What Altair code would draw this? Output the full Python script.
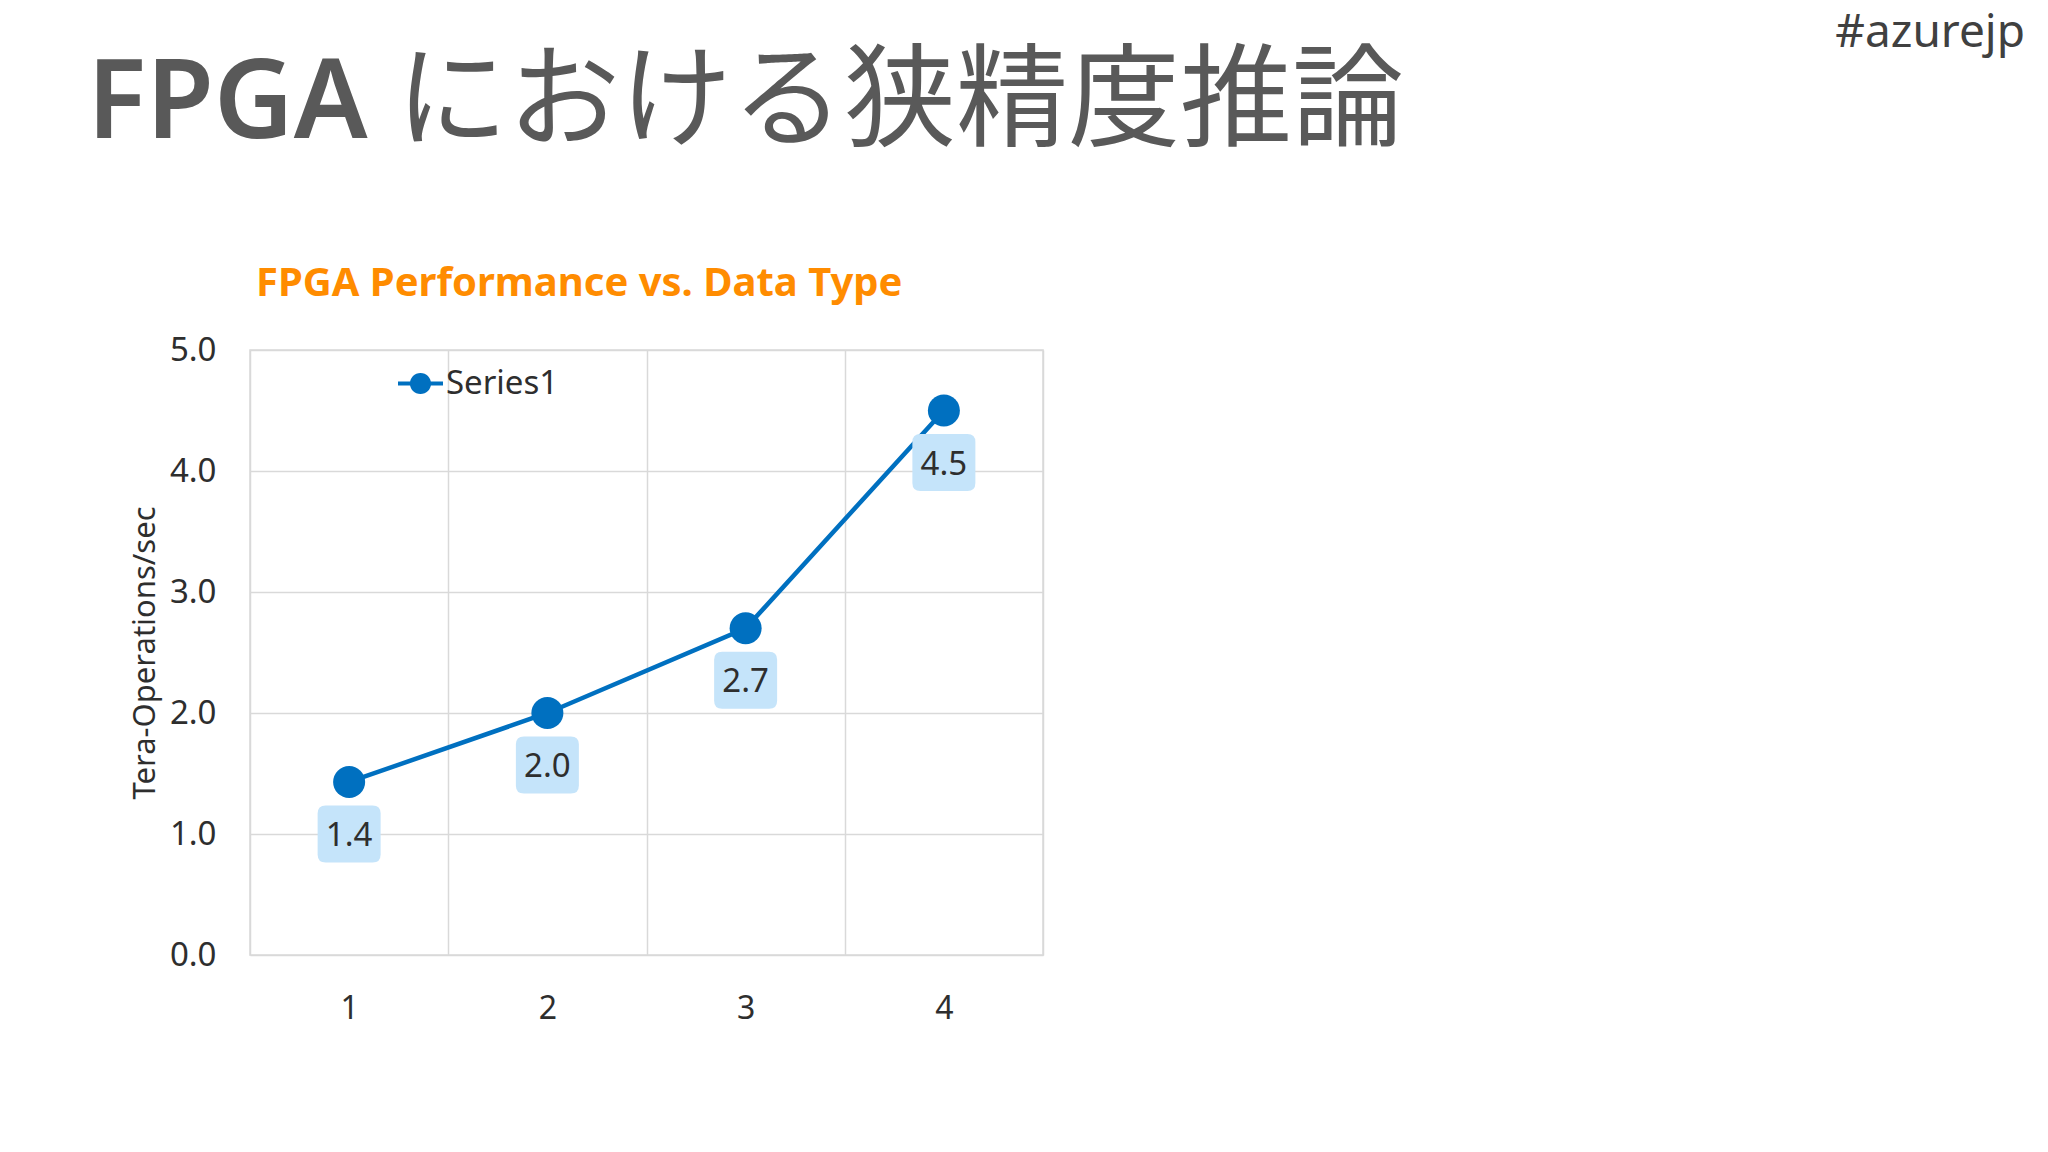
import altair as alt
import pandas as pd

# ---- data ----
categories = ["1", "2", "3", "4"]
values = [1.43, 2.0, 2.7, 4.5]
series_name = "Series1"
y_ticks = [0, 1, 2, 3, 4, 5]

slide_title_latin = "FPGA"
slide_title_jp = "における狭精度推論"
chart_title = "FPGA Performance vs. Data Type"
hashtag = "#azurejp"
y_title = "Tera-Operations/sec"

df = pd.DataFrame({"type": categories, "value": values, "series": [series_name] * len(values)})

FONT = "Noto Sans"
BLUE = "#0070C0"
GRID = "#D9D9D9"
LABEL_BG = "#C5E4FA"
TXT = "#2E2E2E"

legend_symbol = ("M-1,-0.09L1,-0.09L1,0.09L-1,0.09Z "
                 "M0.47,0A0.47,0.47 0 1,1 -0.47,0A0.47,0.47 0 1,1 0.47,0Z")
box_shape = ("M-0.746,-0.905L0.746,-0.905Q1,-0.905 1,-0.651L1,0.651"
             "Q1,0.905 0.746,0.905L-0.746,0.905Q-1,0.905 -1,0.651"
             "L-1,-0.651Q-1,-0.905 -0.746,-0.905Z")

x_enc = alt.X(
    "type:O",
    sort=categories,
    scale=alt.Scale(paddingInner=0, paddingOuter=0),
    axis=alt.Axis(
        title=None, labelAngle=0, tickBand="extent", grid=True,
        gridColor=GRID, gridWidth=1.5, ticks=False, tickSize=0, domain=False,
        labelFont=FONT, labelFontSize=32, labelColor=TXT, labelPadding=38,
    ),
)
y_enc = alt.Y(
    "value:Q",
    scale=alt.Scale(domain=[0, 5], nice=False),
    axis=alt.Axis(
        values=y_ticks, format=".1f", title=y_title,
        grid=True, gridColor=GRID, gridWidth=1.5, ticks=False, tickSize=0,
        domain=False, labelFont=FONT, labelFontSize=33, labelColor=TXT,
        labelPadding=34, titleFont=FONT, titleFontSize=31, titleFontWeight="normal",
        titleColor=TXT, titlePadding=8,
    ),
)

base = alt.Chart(df)

line = base.mark_line(color=BLUE, strokeWidth=4.5).encode(x=x_enc, y=y_enc)

points = base.mark_point(filled=True, size=1024, opacity=1).encode(
    x=x_enc, y=y_enc,
    color=alt.Color(
        "series:N",
        scale=alt.Scale(range=[BLUE]),
        legend=alt.Legend(
            title=None, orient="none", legendX=148, legendY=11, padding=0,
            symbolType=legend_symbol, symbolSize=2025, symbolStrokeWidth=0,
            labelFont=FONT, labelFontSize=33, labelColor=TXT, labelOffset=3,
        ),
    ),
)

boxes = base.mark_point(
    shape=box_shape, filled=True, size=3969, color=LABEL_BG, opacity=1, yOffset=52
).encode(x=x_enc, y=y_enc)

labels = base.mark_text(
    font=FONT, fontSize=33, color=TXT, baseline="middle", yOffset=54
).encode(x=x_enc, y=y_enc, text=alt.Text("value:Q", format=".1f"))


def text_layer(txt, x, y, **kw):
    return alt.Chart(pd.DataFrame({"t": [txt]})).mark_text(**kw).encode(
        x=alt.value(x), y=alt.value(y), text="t:N"
    )


t_latin = text_layer(slide_title_latin, -163, -212, font=FONT, fontSize=110,
                     fontWeight=600, color="#595959", align="left", baseline="alphabetic")
t_jp = text_layer(slide_title_jp, 146, -212, font="Noto Sans CJK JP", fontSize=112,
                  fontWeight=400, color="#595959", align="left", baseline="alphabetic")
t_chart = text_layer(chart_title, 6, -54, font=FONT, fontSize=40, fontWeight="bold",
                     color="#FF8C00", align="left", baseline="alphabetic")
t_tag = text_layer(hashtag, 1775, -303, font=FONT, fontSize=46, color="#404040",
                   align="right", baseline="alphabetic")

chart = alt.layer(line, points, boxes, labels, t_latin, t_jp, t_chart, t_tag).properties(
    width=793,
    height=605,
    autosize=alt.AutoSizeParams(type="none"),
    padding={"left": 242, "top": 342, "right": 990, "bottom": 180},
    background="white",
).configure_view(stroke=GRID, strokeWidth=1.5)

chart.save("out.html", embed_options={"renderer": "svg", "actions": False})
